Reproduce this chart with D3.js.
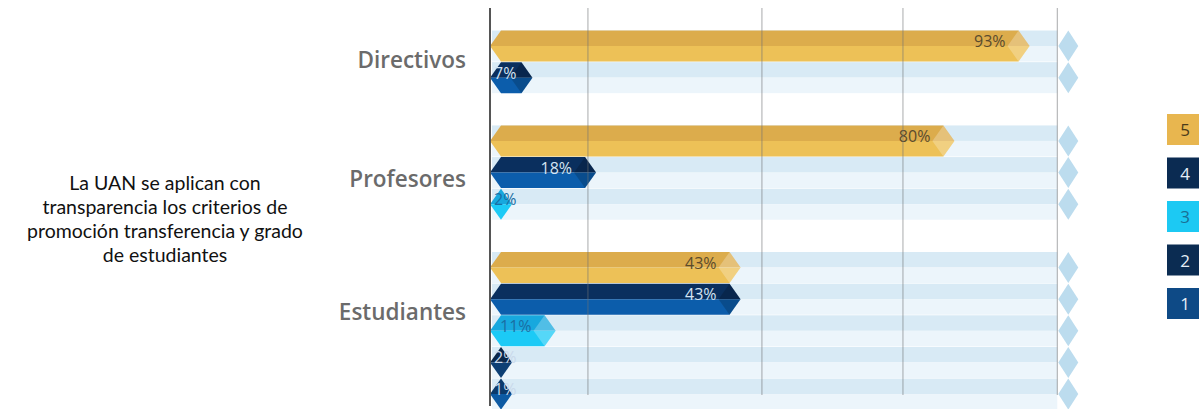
<!DOCTYPE html>
<html>
<head>
<meta charset="utf-8">
<script src="https://cdn.jsdelivr.net/npm/d3@7"></script>
<style>
  body { margin: 0; background: #fff; }
  svg { display: block; font-family: "Open Sans", "Noto Sans", sans-serif; }
</style>
</head>
<body>
<svg id="chart"></svg>
<script>
// values
var groups = ["Directivos", "Profesores", "Estudiantes"];
var levels = ["5", "4", "3", "2", "1"];
var directivos = [93, 7];
var profesores = [80, 18, 2];
var estudiantes = [43, 43, 11, 2, 1];
var gridValues = [16.6, 46.7, 71.1, 97.8];
var questionLines = ["La UAN se aplican con", "transparencia los criterios de",
                     "promoción transferencia y grado", "de estudiantes"];

var width = 1203, height = 409;
var svg = d3.select("#chart").attr("width", width).attr("height", height);

// colours per level: [top half, bottom half, label]
var colors = {
  "5": ["#dcac4c", "#edc157", "#5a4b2c"],
  "4": ["#0a2f5e", "#0c5dab", "#d3e3f3"],
  "3": ["#17a8de", "#1ccaf6", "#1a6ea3"],
  "2": ["#0a2749", "#0d3f74", "#cad9eb"],
  "1": ["#0b3a6b", "#0d5aa3", "#cad9eb"]
};
var legendColors = {"5": "#e8b64f", "4": "#0b2b52", "3": "#1cc9f3", "2": "#0b2c52", "1": "#0e4a86"};
var legendText = {"5": "#4a3b1a", "4": "#e6eef7", "3": "#1a6f95", "2": "#e6eef7", "1": "#e6eef7"};

var series = [directivos, profesores, estudiantes];

// rows: each group's bars then a blank slot
var rows = [];
var rowIds = [];
series.forEach(function(vals, g) {
  vals.forEach(function(v, i) {
    var id = groups[g] + "-" + i;
    rows.push({id: id, group: groups[g], level: levels[i], value: v});
    rowIds.push(id);
  });
  if (g < series.length - 1) rowIds.push("gap" + g);
});

var x = d3.scaleLinear().domain([0, 100]).range([492, 1070]);
var y = d3.scaleBand().domain(rowIds).range([30.2, 409.9]).padding(0);
var bh = 31;
var p = 11;

// background tracks
var tracks = svg.append("g");
rows.forEach(function(r) {
  var cy = y(r.id) + y.bandwidth() / 2;
  tracks.append("rect").attr("x", x(0)).attr("y", cy - bh / 2)
    .attr("width", x(gridValues[3]) - x(0)).attr("height", bh / 2).attr("fill", "#d8eaf5");
  tracks.append("rect").attr("x", x(0)).attr("y", cy)
    .attr("width", x(gridValues[3]) - x(0)).attr("height", bh / 2).attr("fill", "#ecf5fb");
  var tx = x(gridValues[3]) + 11;
  tracks.append("path")
    .attr("d", "M" + (tx - 10) + "," + cy + "L" + tx + "," + (cy - bh / 2) + "L" + (tx + 10) + "," + cy + "L" + tx + "," + (cy + bh / 2) + "Z")
    .attr("fill", "#bcdcee");
});

// bars
var bars = svg.append("g");
rows.forEach(function(r) {
  var cy = y(r.id) + y.bandwidth() / 2;
  var x0 = x(0) - 2;
  var x1 = Math.max(x(r.value), x0 + 2 * p);
  var top = cy - bh / 2, bot = cy + bh / 2;
  var c = colors[r.level];
  bars.append("path")
    .attr("d", "M" + x0 + "," + cy + "L" + (x0 + p) + "," + top + "L" + (x1 - p) + "," + top + "L" + x1 + "," + cy + "Z")
    .attr("fill", c[0]);
  bars.append("path")
    .attr("d", "M" + x0 + "," + cy + "L" + (x0 + p) + "," + bot + "L" + (x1 - p) + "," + bot + "L" + x1 + "," + cy + "Z")
    .attr("fill", c[1]);
  if (x1 - x0 > 3 * p) {
    bars.append("path")
      .attr("d", "M" + (x1 - 2 * p) + "," + cy + "L" + (x1 - p) + "," + top + "L" + x1 + "," + cy + "L" + (x1 - p) + "," + bot + "Z")
      .attr("fill", r.level == "4" ? "#000" : "#fff")
      .attr("opacity", r.level == "4" ? 0.18 : 0.25);
  }
  var t = bars.append("text")
    .attr("y", cy + 1)
    .attr("font-size", 16)
    .attr("fill", c[2])
    .text(r.value + "%");
  var tw = t.node().getComputedTextLength();
  var tx = x1 - 24;
  if (tx - tw < 494) tx = 494 + tw;
  t.attr("x", tx).attr("text-anchor", "end");
});

// gridlines drawn over the bars
svg.append("g").selectAll("line")
  .data(gridValues)
  .enter()
  .append("line")
  .attr("x1", function(d) { return x(d); })
  .attr("x2", function(d) { return x(d); })
  .attr("y1", 8).attr("y2", 395)
  .attr("stroke", "#6f7275")
  .attr("stroke-opacity", 0.6)
  .attr("stroke-width", 1);

// axis line
svg.append("line")
  .attr("x1", x(0) - 2).attr("x2", x(0) - 2)
  .attr("y1", 8).attr("y2", 406)
  .attr("stroke", "#555").attr("stroke-width", 2);

// group labels
var labelShift = [0.45, 1.2, 1.4];
groups.forEach(function(g, i) {
  var cy = y(g + "-0") + y.bandwidth() / 2 + y.bandwidth() * labelShift[i];
  svg.append("text")
    .attr("x", 466).attr("y", cy + 8)
    .attr("text-anchor", "end")
    .attr("font-size", 22.5)
    .attr("font-weight", 600)
    .attr("fill", "#6b6b6b")
    .text(g);
});

// question text (Lato keeps the line boxes from touching)
svg.append("g").selectAll("text")
  .data(questionLines)
  .enter()
  .append("text")
  .attr("x", 165)
  .attr("y", function(d, i) { return 190 + i * 24; })
  .attr("text-anchor", "middle")
  .attr("font-family", "Lato, 'Open Sans', sans-serif")
  .attr("font-size", 19.5)
  .attr("fill", "#111")
  .text(function(d) { return d; });

// legend
var ly = d3.scalePoint().domain(levels).range([114, 288]);
var leg = svg.append("g");
levels.forEach(function(l) {
  leg.append("rect")
    .attr("x", 1167).attr("y", ly(l))
    .attr("width", 32).attr("height", 31)
    .attr("fill", legendColors[l]);
  leg.append("text")
    .attr("x", 1185).attr("y", ly(l) + 22)
    .attr("text-anchor", "middle")
    .attr("font-size", 17)
    .attr("fill", legendText[l])
    .text(l);
});
</script>
</body>
</html>
